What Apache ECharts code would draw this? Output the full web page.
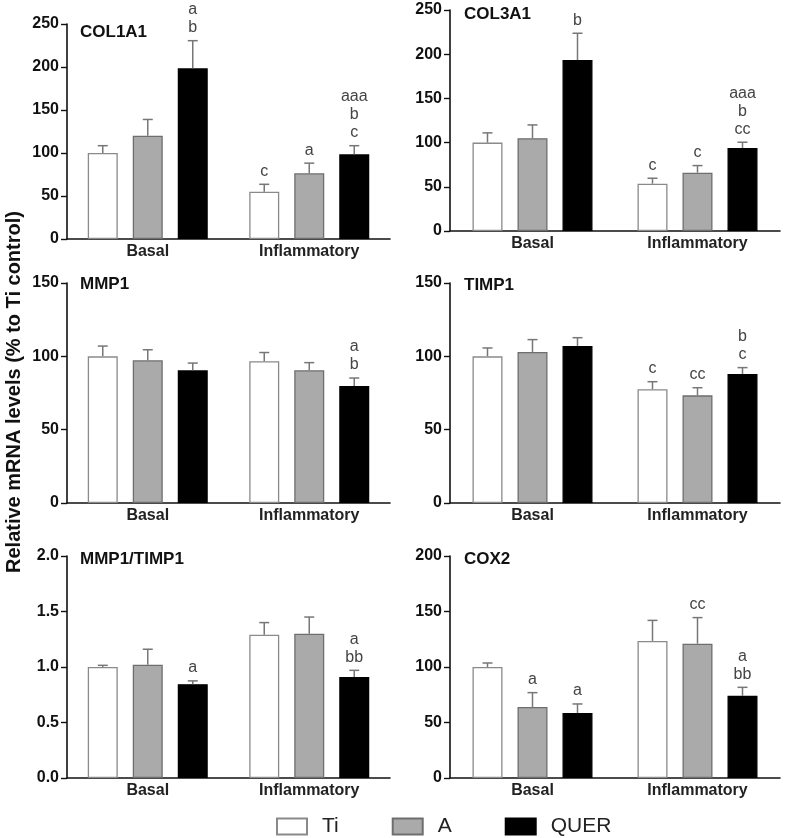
<!DOCTYPE html>
<html>
<head>
<meta charset="utf-8">
<script src="https://cdn.jsdelivr.net/npm/echarts@6/dist/echarts.min.js"></script>
<style>
html,body{margin:0;padding:0;background:#fff;}
#chart{width:787px;height:838px;}
</style>
</head>
<body>
<div id="chart"></div>
<script>
// ---- data ----
const categories = ['Basal', 'Inflammatory'];
const panelTitles = ['COL1A1', 'COL3A1', 'MMP1', 'TIMP1', 'MMP1/TIMP1', 'COX2'];
const groupNames = ['Ti', 'A', 'QUER'];
const yMax = [250, 250, 150, 150, 2, 200];
const yStep = [50, 50, 50, 50, 0.5, 50];

// means per panel: [Basal, Inflammatory]
const tiMean   = [[100, 55], [100, 53.5], [100, 96.6], [100, 77.6], [1.0, 1.29], [100, 123.5]];
const aMean    = [[120, 76.4], [105, 66], [97.3, 90.5], [103, 73.4], [1.02, 1.30], [64, 121]];
const querMean = [[198.5, 98.5], [193.4, 94], [90.5, 79.8], [107.1, 88], [0.845, 0.91], [58.6, 74]];
// SEM per panel
const tiErr   = [[8.5, 8.6], [11, 6.2], [7, 6], [5.7, 5.1], [0.015, 0.11], [3.6, 18.5]];
const aErr    = [[19, 11.8], [15, 8], [7.2, 5.2], [8.4, 5.2], [0.14, 0.15], [12.9, 23.5]];
const querErr = [[32.1, 10], [30.3, 6.4], [4.9, 5.4], [5.6, 4.3], [0.03, 0.06], [8.1, 7.7]];
// significance letters
const tiSig   = [['', 'c'], ['', 'c'], ['', ''], ['', 'c'], ['', ''], ['', '']];
const aSig    = [['', 'a'], ['', 'c'], ['', ''], ['', 'cc'], ['', ''], ['a', 'cc']];
const querSig = [['a\nb', 'aaa\nb\nc'], ['b', 'aaa\nb\ncc'], ['', 'a\nb'], ['', 'b\nc'], ['a', 'a\nbb'], ['a', 'a\nbb']];

// ---- layout / style ----
const FONT = 'Arial, "Liberation Sans", Helvetica, sans-serif';
const grids = [
  {left: 67,  top: 24,  width: 323, height: 215},
  {left: 450, top: 10,  width: 330, height: 221},
  {left: 67,  top: 283, width: 323, height: 220},
  {left: 450, top: 283, width: 330, height: 220},
  {left: 67,  top: 556, width: 323, height: 222},
  {left: 450, top: 556, width: 330, height: 222}
];
const titlePos = [[80, 24], [464, 6], [80, 276], [464, 277], [80, 551], [464, 551]];
const groupStyles = [
  {color: '#ffffff', borderColor: '#8a8a8a', borderWidth: 1.3},
  {color: '#aaaaaa', borderColor: '#6e6e6e', borderWidth: 1.3},
  {color: '#000000', borderColor: '#000000', borderWidth: 1.3}
];
const means = [tiMean, aMean, querMean];
const errs = [tiErr, aErr, querErr];
const sigs = [tiSig, aSig, querSig];
const BAR_W = 30;
const BAR_STEP = 45;

const xAxes = [], yAxes = [], series = [], titles = [];
grids.forEach((g, p) => {
  xAxes.push({
    type: 'category', gridIndex: p, data: categories,
    axisLine: {lineStyle: {color: '#111', width: 1.6}},
    axisTick: {show: false},
    axisLabel: {fontFamily: FONT, fontSize: 16, fontWeight: 'bold', color: '#222', margin: 5}
  });
  yAxes.push({
    type: 'value', gridIndex: p, min: 0, max: yMax[p], interval: yStep[p],
    splitLine: {show: false},
    axisLine: {show: true, lineStyle: {color: '#111', width: 1.6}},
    axisTick: {show: true, length: 6, lineStyle: {color: '#111', width: 1.4}},
    axisLabel: {
      fontFamily: FONT, fontSize: 16, fontWeight: 'bold', color: '#111', margin: 8,
      formatter: p === 4 ? (v => v.toFixed(1)) : (v => String(v))
    }
  });
  titles.push({
    text: panelTitles[p], left: titlePos[p][0], top: titlePos[p][1], padding: 0,
    textStyle: {fontFamily: FONT, fontSize: 17, fontWeight: 'bold', color: '#111'}
  });
  groupNames.forEach((name, gi) => {
    series.push({
      type: 'bar', name: name, xAxisIndex: p, yAxisIndex: p,
      data: means[gi][p], barWidth: BAR_W, barGap: '50%',
      itemStyle: groupStyles[gi], z: 2
    });
  });
  groupNames.forEach((name, gi) => {
    const labels = sigs[gi][p];
    series.push({
      type: 'custom', name: 'err-' + name, xAxisIndex: p, yAxisIndex: p, z: 3,
      clip: false,
      data: categories.map((c, ci) => [ci, means[gi][p][ci], errs[gi][p][ci]]),
      encode: {x: 0, y: 1},
      renderItem: function (params, api) {
        const ci = api.value(0);
        const m = api.value(1);
        const e = api.value(2);
        const base = api.coord([ci, m]);
        const top = api.coord([ci, m + e]);
        const x = base[0] + (gi - 1) * BAR_STEP;
        const children = [
          {type: 'line', shape: {x1: x, y1: base[1], x2: x, y2: top[1]},
           style: {stroke: '#777', lineWidth: 1.5}},
          {type: 'line', shape: {x1: x - 5, y1: top[1], x2: x + 5, y2: top[1]},
           style: {stroke: '#777', lineWidth: 1.5}}
        ];
        const txt = labels[params.dataIndex];
        if (txt) {
          children.push({
            type: 'text', x: x, y: top[1] - 4,
            style: {text: txt, textAlign: 'center', textVerticalAlign: 'bottom',
                    font: '16px ' + FONT, fill: '#444', lineHeight: 18}
          });
        }
        return {type: 'group', children: children};
      }
    });
  });
});

const option = {
  animation: false,
  backgroundColor: '#fff',
  title: titles,
  grid: grids.map(g => Object.assign({containLabel: false}, g)),
  xAxis: xAxes,
  yAxis: yAxes,
  legend: {
    data: groupNames, left: 276, top: 816, padding: 0,
    icon: 'rect', itemWidth: 30, itemHeight: 16, itemGap: 53,
    textStyle: {fontFamily: FONT, fontSize: 21, color: '#222', padding: [0, 0, 0, 10]}
  },
  graphic: [{
    type: 'text', x: 14, y: 392, rotation: Math.PI / 2,
    style: {text: 'Relative mRNA levels (% to Ti control)', textAlign: 'center',
            textVerticalAlign: 'middle', font: 'bold 20px ' + FONT, fill: '#111'}
  }],
  series: series
};

const chart = echarts.init(document.getElementById('chart'), null, {renderer: 'canvas'});
chart.setOption(option);
</script>
</body>
</html>
